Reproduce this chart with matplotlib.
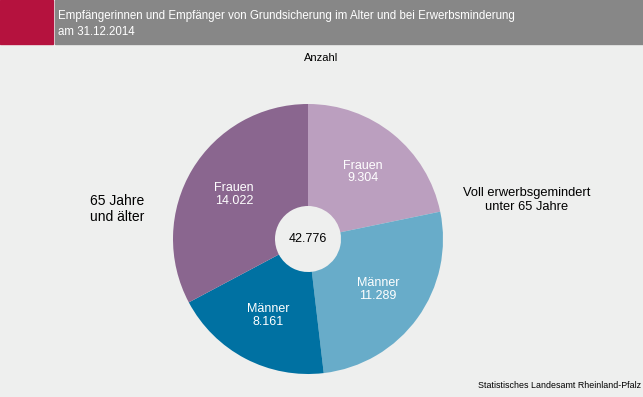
import numpy as np
import matplotlib.pyplot as plt
from matplotlib.patches import Rectangle

plt.rcParams['font.family'] = ['Liberation Sans', 'DejaVu Sans']

# data
labels = ["Frauen", "Männer", "Männer", "Frauen"]
values = [9304, 11289, 8161, 14022]
value_labels = ["9.304", "11.289", "8.161", "14.022"]
total_label = "42.776"
colors = ["#BB9FBF", "#68ACC9", "#0071A2", "#8A668F"]

title = "Empfängerinnen und Empfänger von Grundsicherung im Alter und bei Erwerbsminderung\nam 31.12.2014"
source = "Statistisches Landesamt Rheinland-Pfalz"

W, H = 643, 397
bg = "#EEEFEE"
fig = plt.figure(figsize=(W / 100, H / 100), dpi=100, facecolor=bg)


def px(x, y):
    return x / W, 1 - y / H


# header: crimson block, thin white gap, grey bar
fig.patches.append(Rectangle((0, 1 - 44 / H), 1, 44 / H, transform=fig.transFigure,
                             color="white", zorder=0))
fig.patches.append(Rectangle((0, 1 - 44 / H), 53 / W, 44 / H, transform=fig.transFigure,
                             color="#B5123E", zorder=0))
fig.patches.append(Rectangle((55 / W, 1 - 44 / H), 1 - 55 / W, 44 / H, transform=fig.transFigure,
                             color="#878787", zorder=0))
fig.text(*px(58, 24), title, color="white", fontsize=8.3, va="center", ha="left", linespacing=1.4)
fig.text(*px(321, 58), "Anzahl", fontsize=8, ha="center", va="center")

# donut
cx, cy, r = 308, 239, 135
ax = fig.add_axes([(cx - r) / W, (H - cy - r) / H, 2 * r / W, 2 * r / H])
ax.set_facecolor("none")
wedges, _ = ax.pie(values, colors=colors, startangle=90, counterclock=False, radius=1,
                   wedgeprops=dict(width=1 - 33 / 135, linewidth=0))
ax.set_xlim(-1, 1)
ax.set_ylim(-1, 1)
ax.set_aspect("equal")
ax.axis("off")

for w, lab, vl in zip(wedges, labels, value_labels):
    ang = np.deg2rad((w.theta1 + w.theta2) / 2)
    ax.text(0.64 * np.cos(ang), 0.64 * np.sin(ang), f"{lab}\n{vl}", color="white",
            fontsize=9, ha="center", va="center", linespacing=1.1)

ax.text(0, 0, total_label, fontsize=9, ha="center", va="center")

# outside group labels
fig.text(*px(90, 209), "65 Jahre\nund älter", fontsize=10, ha="left", va="center", linespacing=1.15)
fig.text(*px(527, 200), "Voll erwerbsgemindert\nunter 65 Jahre", fontsize=9.3, ha="center",
         va="center", multialignment="center", linespacing=1.2)

fig.text(*px(641, 386), source, fontsize=6.4, ha="right", va="center")

fig.savefig("out.png", dpi=100, facecolor=bg)
